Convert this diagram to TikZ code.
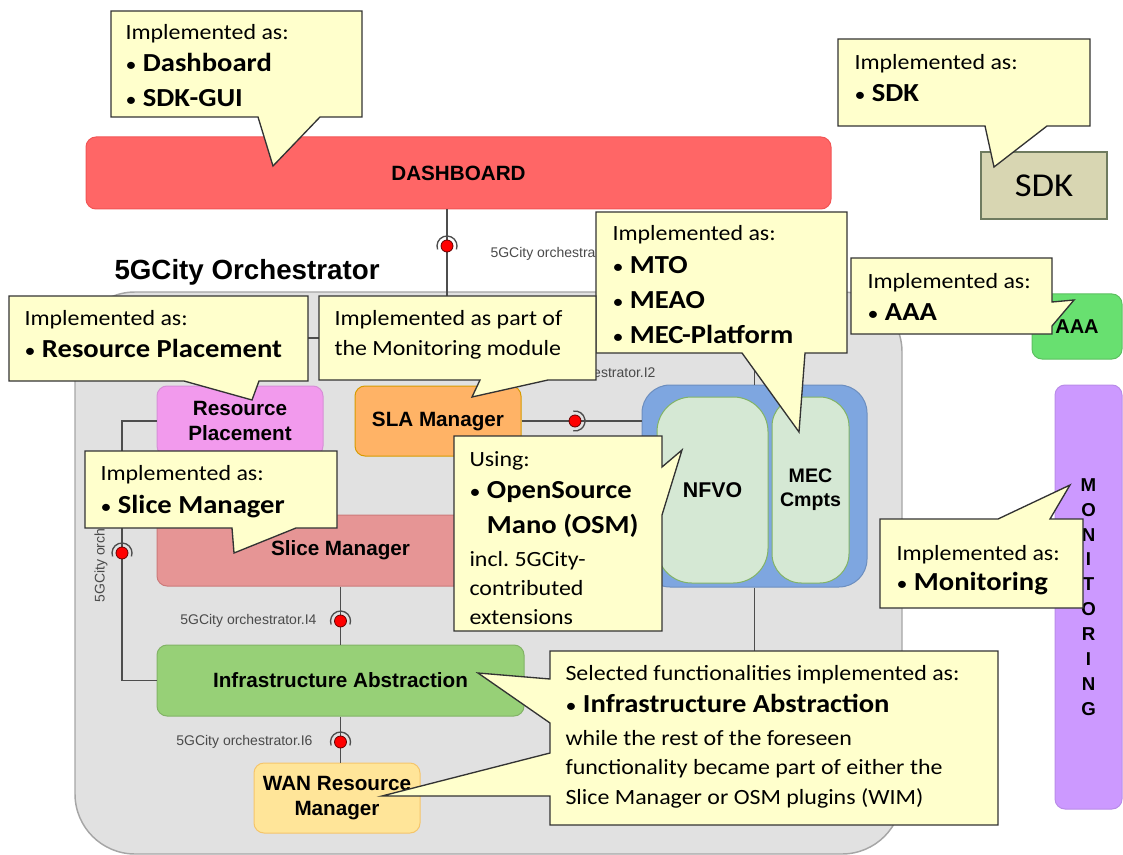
\documentclass[tikz,border=0pt]{standalone}
\usepackage{fontspec}
\setmainfont{Carlito}[FakeStretch=1.1]
\newfontfamily\arialfont{Liberation Sans}

\definecolor{dashRed}{HTML}{FF6666}
\definecolor{dashEdge}{HTML}{F25555}
\definecolor{sdkFill}{HTML}{D8D6B2}
\definecolor{sdkEdge}{HTML}{6F7B5F}
\definecolor{orchFill}{HTML}{E1E1E1}
\definecolor{orchEdge}{HTML}{A6A6A6}
\definecolor{rpFill}{HTML}{F29AED}
\definecolor{rpEdge}{HTML}{D68FD6}
\definecolor{slaFill}{HTML}{FFB366}
\definecolor{slaEdge}{HTML}{D79B00}
\definecolor{sliceFill}{HTML}{E69595}
\definecolor{sliceEdge}{HTML}{CC7A7A}
\definecolor{iaFill}{HTML}{97D077}
\definecolor{iaEdge}{HTML}{82B366}
\definecolor{wanFill}{HTML}{FFE599}
\definecolor{wanEdge}{HTML}{F5C56B}
\definecolor{manoFill}{HTML}{7EA6E0}
\definecolor{manoEdge}{HTML}{6C8EBF}
\definecolor{nfvFill}{HTML}{D5E8D4}
\definecolor{nfvEdge}{HTML}{82B366}
\definecolor{aaaFill}{HTML}{68E070}
\definecolor{aaaEdge}{HTML}{5CC060}
\definecolor{monFill}{HTML}{CC99FF}
\definecolor{monEdge}{HTML}{B98CE8}
\definecolor{calFill}{HTML}{FFFFCC}
\definecolor{calEdge}{HTML}{333333}
\definecolor{wireGray}{HTML}{4D4D4D}
\definecolor{ifGray}{HTML}{4A4A4A}

\tikzset{every picture/.style={line width=0.75pt}}
\tikzset{
  wh/.style 2 args={minimum width=#1*0.75pt, minimum height=#2*0.75pt},
  block/.style={rounded corners=7.5pt, inner sep=0pt, align=center, font=\arialfont\bfseries\fontsize{15.5}{18.75}\selectfont},
  calbox/.style={draw=calEdge, fill=calFill, line width=1pt},
  caltext/.style={anchor=north west, inner sep=0pt, align=left, font=\fontsize{16.3}{24}\selectfont},
  wire/.style={draw=wireGray, line width=1.1pt},
  iface/.style={circle, fill=red, draw=black!60!red, line width=0.6pt, inner sep=0pt, minimum size=9pt},
  sock/.style={draw=wireGray, line width=1pt},
  ifname/.style={font=\arialfont\fontsize{10.5}{12}\selectfont, text=ifGray, inner sep=0pt}
}
\newcommand{\bul}[1]{{\fontsize{19.5}{24}\selectfont{\fontsize{15}{24}\selectfont\textbullet}\ \textbf{#1}}}

\begin{document}
\begin{tikzpicture}[x=0.75pt,y=0.75pt,yscale=-1,xscale=1]
	\useasboundingbox (0,0) rectangle (1123,855);

	%Shape: Orchestrator frame
	\draw[draw=orchEdge, fill=orchFill, line width=1.1pt, rounded corners=45pt] (75,292) rectangle (902,854);
	% Text Node
	\node[anchor=west, inner sep=0pt, font=\arialfont\bfseries\fontsize{20.8}{24}\selectfont] (orchtitle) at (114,272) {5GCity Orchestrator};

	% Blocks
	\node[block, fill=dashRed, draw=dashEdge, wh={745}{72}] (dashboard) at (458.5,173) {DASHBOARD};
	\node[block, sharp corners, fill=sdkFill, draw=sdkEdge, line width=1.9pt, wh={126}{67}, font=\fontsize{25}{30}\selectfont] (sdk) at (1044,185.5) {SDK};
	\node[block, fill=rpFill, draw=rpEdge, wh={166}{70}] (resplace) at (240,421) {Resource\\Placement};
	\node[block, fill=slaFill, draw=slaEdge, wh={166}{70}] (sla) at (438,421) {SLA Manager};
	\node[block, fill=sliceFill, draw=sliceEdge, wh={367}{71}] (slice) at (340.5,550.5) {Slice Manager};
	\node[block, fill=iaFill, draw=iaEdge, wh={367}{71}] (infra) at (340.5,680.5) {Infrastructure Abstraction};
	\node[block, fill=wanFill, draw=wanEdge, wh={166}{70}] (wan) at (337,798) {WAN Resource\\Manager};
	\node[block, rounded corners=21pt, fill=manoFill, draw=manoEdge, wh={225}{202}] (mano) at (754.5,486) {};
	\node[block, rounded corners=26pt, fill=nfvFill, draw=nfvEdge, wh={111}{186}, font=\arialfont\bfseries\fontsize{16}{19}\selectfont] (nfvo) at (712.5,490) {NFVO};
	\node[block, rounded corners=22pt, fill=nfvFill, draw=nfvEdge, wh={77}{186}, font=\arialfont\bfseries\fontsize{14.7}{18}\selectfont] (mec) at (810.5,490) {MEC\\Cmpts};
	\node[block, fill=aaaFill, draw=aaaEdge, wh={90}{65}, font=\arialfont\bfseries\fontsize{15}{18}\selectfont] (aaa) at (1077,326.5) {AAA};
	\node[block, fill=monFill, draw=monEdge, wh={67}{424}, font=\arialfont\bfseries\fontsize{14}{18.7}\selectfont] (monit) at (1088.5,597) {M\\O\\N\\I\\T\\O\\R\\I\\N\\G};

	% Interfaces
	\coordinate (i1) at (447,246);
	\coordinate (i2) at (575,421);
	\coordinate (i3) at (122,553);
	\coordinate (i4) at (340.5,621);
	\coordinate (i6) at (340.5,742);
	\coordinate (dturn) at (447,338);
	\coordinate (mtop) at (754.5,292);

	% Connectors
	\draw[wire] (dashboard.south -| i1) -- (dturn) -- (dturn -| resplace.north) -- (resplace.north);
	\draw[wire] (sla.east) -- (sla.east -| mano.west);
	\draw[wire] (mtop) -- (mano.north);
	\draw[wire] (mano.south) -- (mano.south |- infra.east) -- (infra.east);
	\draw[wire] (resplace.west) -- (resplace.west -| i3) -- (i3 |- infra.west) -- (infra.west);
	\draw[wire] (slice.south) -- (infra.north);
	\draw[wire] (infra.south) -- (infra.south |- wan.north);

	\draw[sock] (i1) ++(160:10) arc[start angle=160, end angle=380, radius=10];
	\draw[sock] (i2) ++(-100:10) arc[start angle=-100, end angle=100, radius=10];
	\draw[sock] (i3) ++(160:10) arc[start angle=160, end angle=380, radius=10];
	\draw[sock] (i4) ++(160:10) arc[start angle=160, end angle=380, radius=10];
	\draw[sock] (i6) ++(160:10) arc[start angle=160, end angle=380, radius=10];
	\node[iface] (i1dot) at (i1) {};
	\node[iface] (i2dot) at (i2) {};
	\node[iface] (i3dot) at (i3) {};
	\node[iface] (i4dot) at (i4) {};
	\node[iface] (i6dot) at (i6) {};

	% Text Node
	\node[ifname, anchor=west] (l1) at (490,254) {5GCity orchestrator.I1};
	\node[ifname, anchor=east] (l2) at (656,374) {5GCity orchestrator.I2};
	\node[ifname, anchor=west, rotate=90] (l3) at (101,603) {5GCity orchestrator.I3};
	\node[ifname, anchor=east] (l4) at (317,621) {5GCity orchestrator.I4};
	\node[ifname, anchor=east] (l6) at (313,742) {5GCity orchestrator.I6};

	%Shape: Callouts
	\draw[calbox] (111,11) -- (362,11) -- (362,117) -- (320,117) -- (273,166) -- (258,117) -- (111,117) -- cycle;
	\node[caltext] (dashnote) at (125,24) {Implemented as:\\ \bul{Dashboard}\\[2.25pt] \bul{SDK-GUI}};

	\draw[calbox] (838,39) -- (1090,39) -- (1090,126) -- (1047,126) -- (994,167) -- (985,126) -- (838,126) -- cycle;
	\node[caltext] (sdknote) at (854,54) {Implemented as:\\ \bul{SDK}};

	\draw[calbox] (596,212) -- (847,212) -- (847,353) -- (805,353) -- (799,432) -- (742,353) -- (596,353) -- cycle;
	\node[caltext] (mtonote) at (612,225) {Implemented as:\\[0.5pt] \bul{MTO}\\[2.25pt] \bul{MEAO}\\[2.25pt] \bul{MEC-Platform}};

	\draw[calbox] (851,258) -- (1052,258) -- (1052,302) -- (1074,300) -- (1052,326) -- (1052,334) -- (851,334) -- cycle;
	\node[caltext] (aaanote) at (867,273) {Implemented as:\\ \bul{AAA}};

	\draw[calbox] (9,296) -- (308,296) -- (308,381) -- (259,381) -- (252,400) -- (184,381) -- (9,381) -- cycle;
	\node[caltext] (rpnote) at (24,310) {Implemented as:\\ \bul{Resource Placement}};

	\draw[calbox] (319,296) -- (596,296) -- (596,380) -- (548,380) -- (472,397) -- (480,380) -- (319,380) -- cycle;
	\node[caltext] (slanote) at (334,310) {Implemented as part of\\[-1.5pt] the Monitoring module};

	\draw[calbox] (85,451) -- (337,451) -- (337,528) -- (296,528) -- (234,553) -- (232,528) -- (85,528) -- cycle;
	\node[caltext] (slicenote) at (100,465) {Implemented as:\\[0.75pt] \bul{Slice Manager}};

	\draw[calbox] (454,436) -- (662,436) -- (662,467) -- (682,450) -- (662,515) -- (662,631) -- (454,631) -- cycle;
	\node[caltext] (osmnote) at (469,451) {Using:\\ \bul{OpenSource}\\[2.25pt] {\fontsize{19.5}{24}\selectfont\phantom{{\fontsize{15}{24}\selectfont\textbullet}\ }\textbf{Mano (OSM)}}\\[0.75pt] incl.\ 5GCity-\\[-2.25pt] contributed\\[-2.25pt] extensions};

	\draw[calbox] (880,519) -- (998,519) -- (1070,485) -- (1050,519) -- (1083,519) -- (1083,608) -- (880,608) -- cycle;
	\node[caltext] (monnote) at (896,545) {Implemented as:\\[-1.5pt] \bul{Monitoring}};

	\draw[calbox] (550,651) -- (998,651) -- (998,825) -- (550,825) -- (550,796) -- (382,796) -- (550,753) -- (550,723) -- (478,673) -- (550,679) -- cycle;
	\node[caltext] (ianote) at (565,665) {Selected functionalities implemented as:\\ \bul{Infrastructure Abstraction}\\[0.75pt] while the rest of the foreseen\\[-2.25pt] functionality became part of either the\\[-1.5pt] Slice Manager or OSM plugins (WIM)};

\end{tikzpicture}
\end{document}
